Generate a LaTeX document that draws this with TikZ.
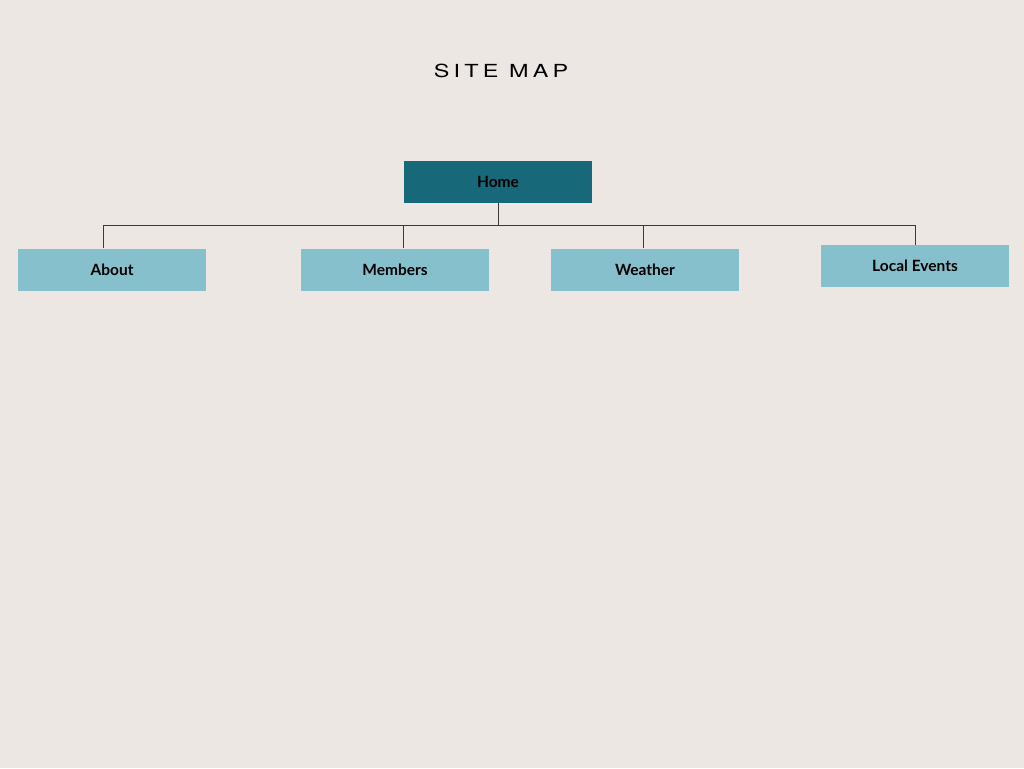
\documentclass[tikz,border=0pt]{standalone}
\usepackage{fontspec}
\setmainfont{Lato}
\newfontfamily\titlefont[LetterSpace=18]{TeX Gyre Heros}
\definecolor{paper}{HTML}{ECE7E3}
\definecolor{homeblue}{HTML}{17697A}
\definecolor{pageblue}{HTML}{86C0CC}
\definecolor{wire}{HTML}{3A3A3A}

\begin{document}
\begin{tikzpicture}
  [x = 1pt, y = -1pt,
   homebox/.style = {fill = homeblue, minimum width = 188pt, minimum height = 42pt, font = \bfseries\fontsize{15.5}{17}\selectfont},
   pagebox/.style = {fill = pageblue, minimum width = 188pt, minimum height = 42pt, font = \bfseries\fontsize{15.5}{17}\selectfont},
   wire/.style = {draw = wire, line width = .9pt}]
  \fill[paper] (0,0) rectangle (1024,768);
  \useasboundingbox (0,0) rectangle (1024,768);
  \node[xscale = 1.3] (title) at (501,71) {\titlefont\fontsize{18}{20}\selectfont SITE MAP};
  \node[homebox] (home) at (498,182) {Home};
  \coordinate (bus) at (498,225);
  \draw[wire] (home.south) -- (bus);
  \foreach \n/\t/\x/\y/\d in {about/About/112/269.5/-9, members/Members/395/269.5/8, weather/Weather/645/269.5/-2, events/Local Events/915/266/0}{
    \node[pagebox] (\n) at (\x,\y) {\t};
    \draw[wire] ([xshift = \d pt]\n.north) |- (bus);
  }
\end{tikzpicture}
\end{document}
